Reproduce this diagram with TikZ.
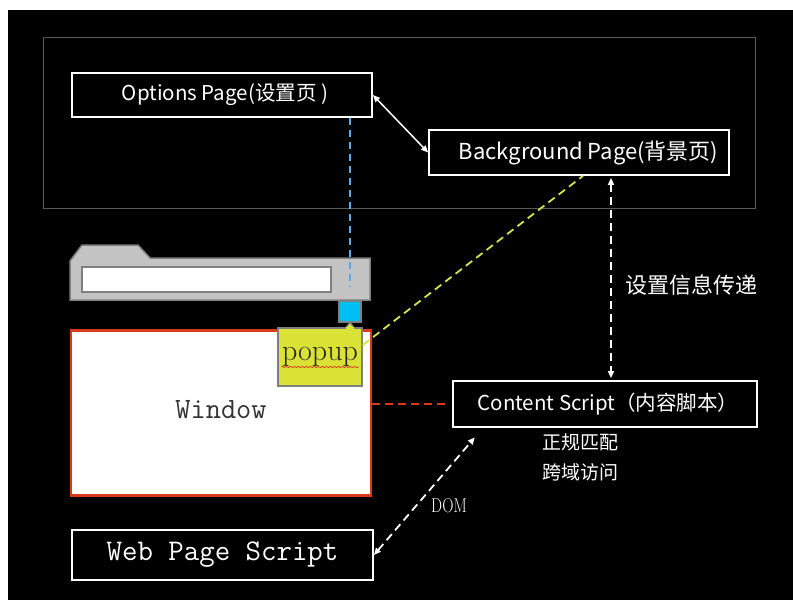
\documentclass[tikz,border=0pt]{standalone}
\usepackage{fontspec}
\newfontfamily\cjk{Noto Sans CJK SC}
\newfontfamily\labelserif{Latin Modern Roman}
\usetikzlibrary{arrows.meta,calc,decorations.pathmorphing}

\definecolor{frame}{HTML}{5A5A5A}
\definecolor{winred}{HTML}{D83A1C}
\definecolor{barfill}{HTML}{C3C3C3}
\definecolor{barline}{HTML}{7F7F7F}
\definecolor{btnblue}{HTML}{00C0F4}
\definecolor{popfill}{HTML}{D9E235}
\definecolor{linkblue}{HTML}{5FA8E8}
\definecolor{linkyel}{HTML}{D5E34C}

\tikzset{
  wbox/.style={draw=white, line width=1.8pt, fill=black, text=white,
               inner sep=0pt, font=\cjk},
  tip/.style={{Triangle[width=6pt,length=7pt]}-{Triangle[width=6pt,length=7pt]}},
  wdash/.style={draw=white, line width=1.8pt, dash pattern=on 8pt off 5pt},
}

\begin{document}
\begin{tikzpicture}[x=1pt,y=-1pt]
\useasboundingbox (0,0) rectangle (793,600);
\fill[white] (0,0) rectangle (793,600);
\fill[black] (8,10) rectangle (793,600);

% extension pages frame
\draw[frame, line width=1pt] (43,37) rectangle (755,208);

\node[wbox, minimum width=300pt, minimum height=44pt] (opt) at (222,95)
  {\hspace*{6pt}\fontsize{20.5}{24}\selectfont Options Page(设置页 )};
\node[wbox, minimum width=300pt, minimum height=45pt] (bg) at (579,152.5)
  {\hspace*{19pt}\fontsize{22}{26}\selectfont Background Page(背景页)};

\draw[white, line width=1.5pt, tip] (opt.east) -- (bg.west);

% browser window
\node[draw=winred, line width=2.5pt, fill=white, minimum width=300pt,
      minimum height=165pt, inner sep=0pt, text=black!80,
      font=\ttfamily\fontsize{29.5}{31}\selectfont] (win) at (221,413) {\raisebox{8pt}{Window}};

% toolbar
\filldraw[fill=barfill, draw=barline, line width=1.5pt]
  (70,261) -- (82,245) -- (138,245) -- (150,258) -- (370,258)
  -- (370,300) -- (70,300) -- cycle;
\node[draw=barline, line width=1.5pt, fill=white, minimum width=249pt,
      minimum height=25pt, inner sep=0pt] (addr) at (206.5,279.5) {};
\node[draw=barline, line width=1.5pt, fill=btnblue, minimum width=22pt,
      minimum height=21pt, inner sep=0pt] (btn) at (350,311.5) {};

% popup bubble
\node[draw=barline, line width=1.5pt, fill=popfill, minimum width=84pt,
      minimum height=58pt, inner sep=0pt, text=black!85,
      font=\fontsize{30}{32}\selectfont] (pop) at (320,357) {popup};
\filldraw[fill=popfill, draw=barline, line width=1.2pt]
  (345,328.6) -- (350,322.5) -- (355,328.6);
\fill[popfill] (345.8,329.6) rectangle (354.2,327);
\draw[winred, line width=0.7pt, decorate,
      decoration={snake, amplitude=0.6pt, segment length=4pt}]
  ($(pop.west)+(4,10)$) -- ($(pop.east)+(-4,10)$);

\coordinate (vx) at (611,0);
\node[wbox, minimum width=304pt, minimum height=46pt] (cs) at (605,404)
  {\hspace*{6pt}\fontsize{20.5}{24}\selectfont Content Script（内容脚本）};
\node[wbox, minimum width=301pt, minimum height=50pt,
      font=\ttfamily\fontsize{30}{32}\selectfont] (wps) at (222.5,555) {Web Page Script};

% connectors
\draw[linkblue, line width=1.5pt, dash pattern=on 7pt off 5pt,
      shorten >=14pt] (opt.south -| btn) -- (btn.north);
\draw[linkyel, line width=1.8pt, dash pattern=on 8pt off 5pt]
  ($(pop.east)+(0,-12)$) -- ($(bg.south)+(4,0)$);
\draw[wdash, tip, shorten <=2pt, shorten >=2pt] (bg.south -| vx) -- (cs.north -| vx);
\draw[winred, line width=2pt, dash pattern=on 8pt off 5pt, shorten >=6pt]
  (win.east |- cs.west) -- (cs.west);
\draw[wdash, tip, shorten >=2pt] (wps.east) -- ($(cs.south west)+(24,8)$);

% labels
\node[text=white, font=\cjk\fontsize{22}{24}\selectfont] (lbl) at (691,285) {设置信息传递};
\node[text=white, font=\cjk\fontsize{19}{21}\selectfont] (re) at (580,442) {正规匹配};
\node[text=white, font=\cjk\fontsize{19}{21}\selectfont] (xd) at (580,472) {跨域访问};
\node[text=white] (dom) at (449,506) {\labelserif\fontsize{20}{22}\selectfont\scalebox{0.78}[1]{DOM}};
\end{tikzpicture}
\end{document}
